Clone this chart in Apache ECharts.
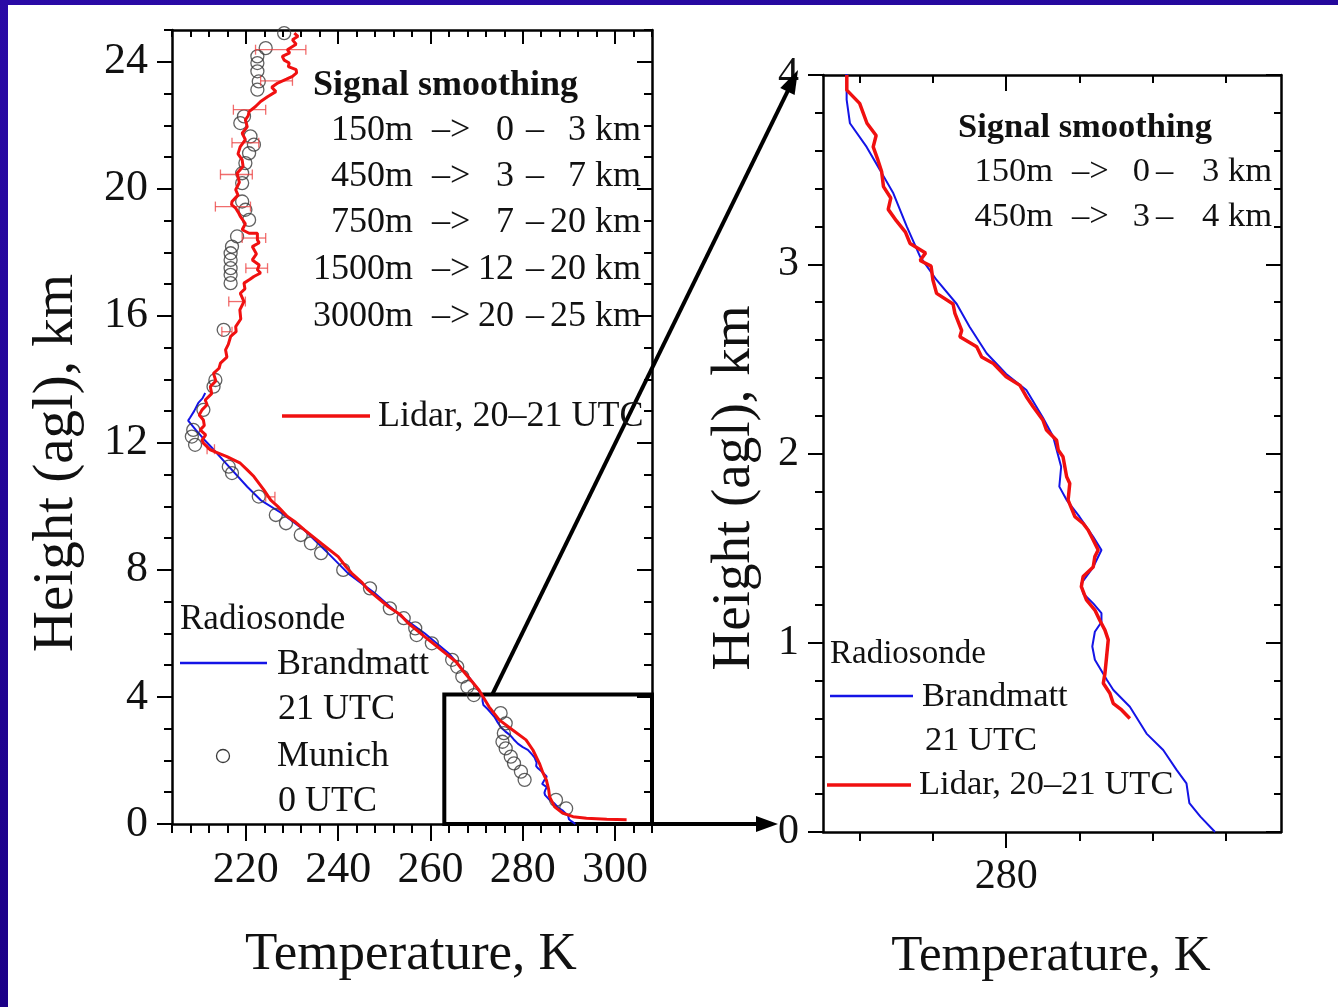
<!DOCTYPE html>
<html><head><meta charset="utf-8">
<script src="https://cdn.jsdelivr.net/npm/echarts@6/dist/echarts.min.js"></script>
<style>html,body{margin:0;padding:0;background:#fff;}#c{width:1338px;height:1007px;}</style>
</head><body><div id="c"></div>
<script>
// ---------------- DATA ----------------
// Radiosonde Brandmatt 21 UTC (temperature K, height km)
const brandmattH = [0.0,0.081,0.152,0.257,0.328,0.433,0.52,0.662,0.75,0.803,0.91,0.98,1.058,1.11,1.156,1.208,1.26,1.314,1.40,1.49,1.56,1.666,1.754,1.825,1.93,2.09,2.19,2.336,2.42,2.53,2.67,2.79,2.917,3.04,3.20,3.375,3.50,3.62,3.745,3.87,4.0,4.3,4.63,5.37,6.0,6.52,7.27,7.9,8.53,9.26,9.8,10.2,10.62,11.37,11.87,12.1,12.4,12.7,12.79,13.0,13.26,13.4,13.57];
const brandmattT = [291.4,290.6,290.0,289.84,289.3,288.57,287.66,286.75,285.85,285.5,284.84,284.7,284.84,285.2,285.2,284.75,284.2,284.1,284.75,285.2,284.75,284.0,283.3,282.9,283.0,282.56,282.0,281.1,280.0,278.93,278.0,277.3,276.2,275.3,274.57,273.84,273.1,272.38,271.47,271.29,271.29,270.0,268.3,264.0,258.8,253.8,247.9,242.1,237.8,232.6,227.6,223.2,220.3,215.6,212.5,211.0,209.2,207.5,207.9,208.8,209.7,210.6,211.2];

// Lidar 20-21 UTC, full profile (left panel)
const lidarFullH = [0.13,0.15,0.18,0.23,0.34,0.54,0.86,1.1,1.39,1.6,1.91,2.33,2.65,2.96,3.28,3.69,4.22,4.5,4.85,5.1,5.38,5.8,6.32,6.6,6.84,7.37,7.6,7.9,8.1,8.42,8.84,9.26,9.5,9.68,10.0,10.2,10.52,10.94,11.15,11.36,11.57,11.78,11.99,12.09,12.25,12.41,12.55,12.72,12.88,13.04,13.2,13.35,13.55,13.77,13.95,14.19,14.35,14.51,14.7,14.93,15.1,15.35,15.5,15.66,15.9,16.19,16.45,16.71,16.85,17.03,17.15,17.24,17.35,17.45,17.6,17.76,17.95,18.18,18.3,18.39,18.6,18.6,18.71,18.9,19.13,19.25,19.39,19.5,19.6,19.8,19.97,20.2,20.49,20.7,20.91,21.1,21.33,21.55,21.75,21.95,22.17,22.3,22.43,22.59,22.75,22.9,23.06,23.2,23.33,23.45,23.54,23.65,23.75,23.85,23.96,24.05,24.17,24.28,24.38,24.55,24.69,24.8,24.9];
const lidarFullT = [302.5,298.2,293.8,290.9,288.7,286.9,285.8,285.6,285.1,284.4,283.6,282.2,280.7,277.8,274.9,272.7,270.5,268.9,266.9,265.6,263.2,259.6,255.2,253.4,250.9,246.5,245.2,242.9,241.7,240.0,236.3,232.7,230.8,229.0,226.9,225.4,223.9,221.75,220.3,218.8,215.9,212.3,210.8,210.5,211.3,210.1,211.0,210.8,209.9,210.5,211.6,211.2,212.6,212.3,213.5,213.0,214.2,214.5,215.9,215.6,216.2,216.7,217.9,217.8,218.9,218.7,219.6,218.8,219.8,219.6,220.9,221.75,223.2,222.5,222.9,221.4,222.3,221.4,222.9,222.5,222.5,220.7,219.2,219.9,218.8,218.4,217.8,216.9,217.0,218.3,217.8,218.6,218.1,219.4,219.2,218.3,218.8,219.9,219.2,220.3,219.9,220.5,220.7,222.1,223.2,224.7,226.5,225.6,226.9,228.8,230.1,231.0,230.9,229.2,229.4,228.3,227.9,229.5,229.0,230.9,230.1,231.3,230.5];

// Lidar 20-21 UTC, 0-4 km (right panel)
const lidarZoomH = [0.60,0.645,0.68,0.733,0.786,0.838,0.926,1.015,1.067,1.12,1.173,1.226,1.296,1.35,1.40,1.455,1.49,1.543,1.596,1.63,1.666,1.754,1.842,1.877,1.983,2.018,2.07,2.124,2.177,2.247,2.30,2.36,2.406,2.476,2.51,2.564,2.617,2.65,2.74,2.79,2.846,2.917,2.99,3.02,3.06,3.11,3.17,3.23,3.29,3.35,3.41,3.49,3.55,3.62,3.68,3.745,3.85,3.92,4.0];
const lidarZoomT = [286.75,286.3,285.84,285.66,285.3,285.39,285.48,285.57,285.39,285.1,284.84,284.38,284.1,284.2,284.75,284.84,285.02,284.75,284.47,284.2,283.75,283.38,283.47,283.3,283.1,282.84,282.75,282.2,282.0,281.47,281.1,280.75,280.0,279.3,278.66,278.39,277.47,277.57,277.2,277.1,276.2,276.0,275.9,275.3,275.6,274.75,274.5,274.0,273.56,273.7,273.3,273.2,273.0,272.74,272.9,272.4,272.0,271.3,271.3];

// Radiosonde Munich 0 UTC
const munichH = [24.9,24.43,24.17,23.96,23.7,23.38,23.12,22.28,22.07,21.65,21.39,21.12,20.81,20.49,20.18,19.6,19.34,19.02,18.5,18.18,17.97,17.76,17.5,17.29,17.03,15.56,13.98,13.77,13.04,12.41,12.2,11.94,11.25,11.05,10.31,9.73,9.47,9.1,8.84,8.53,8.0,7.42,6.79,6.48,6.16,5.95,5.69,5.17,4.95,4.64,4.32,4.06,3.49,3.17,2.86,2.59,2.38,2.12,1.91,1.65,1.39,0.76,0.49];
const munichT = [228.3,224.3,222.5,222.5,222.5,222.8,222.5,219.6,218.8,221.0,221.75,220.7,219.9,219.2,219.2,219.2,219.9,220.7,218.1,217.0,216.7,216.7,216.7,216.7,216.7,215.2,213.4,213.0,210.8,208.6,208.3,209.0,216.3,217.0,222.8,226.5,228.7,231.9,234.1,236.3,241.1,246.9,251.2,254.2,256.7,257.0,260.3,264.7,265.8,266.9,268.0,269.4,275.2,276.3,275.9,275.6,276.3,277.4,278.1,279.6,280.4,287.2,289.4];

// Lidar error bars (height km, low K, high K)
const errH    = [24.38,23.4,22.49,21.45,20.45,19.44,18.45,17.5,16.45,15.5,11.8,10.3];
const errLow  = [222.1,223.2,217.3,217.0,214.5,213.4,219.2,220.0,216.3,214.8,211.6,224.3];
const errHigh = [233.0,230.1,224.3,222.8,221.4,221.0,224.3,224.7,219.9,217.0,213.2,226.3];

// Axis ticks / labels
const xMajorLeft = [220,240,260,280,300];
const yMajorLeft = [0,4,8,12,16,20,24];
const xTicksRight = [272,276,280,284,288,292];
const xMajorRight = [280];
const yMajorRight = [0,1,2,3,4];

// ---------------- CHART ----------------
const zip = (T, H) => T.map((t, i) => [t, H[i]]);
const FONT = 'Liberation Serif';
const BLACK = '#000';

function xa(grid, pos, min, max, o) {
  return Object.assign({
    gridIndex: grid, type: 'value', position: pos, min: min, max: max,
    splitLine: {show: false},
    axisLine: {show: false, onZero: false, lineStyle: {color: BLACK, width: 2.5}},
    axisLabel: {show: false},
  }, o);
}
function tick(len, inside, extra) {
  return Object.assign({show: true, inside: inside, length: len, lineStyle: {color: BLACK, width: 2}}, extra || {});
}
const lineOn = {show: true, onZero: false, lineStyle: {color: BLACK, width: 2.5}};

const xAxes = [
  // left grid
  xa(0, 'bottom', 204, 308, {interval: 4, axisLine: lineOn, axisTick: tick(9, false)}),
  xa(0, 'bottom', 204, 308, {interval: 4, axisTick: tick(17, false, {customValues: xMajorLeft}),
    axisLabel: {show: true, customValues: xMajorLeft, fontFamily: FONT, fontSize: 44, color: '#111', margin: 24}}),
  xa(0, 'top', 204, 308, {interval: 4, axisLine: lineOn, axisTick: tick(7, true)}),
  xa(0, 'top', 204, 308, {interval: 4, axisTick: tick(14, true, {customValues: xMajorLeft})}),
  // right grid
  xa(1, 'bottom', 270, 295, {interval: 5, axisLine: lineOn, axisTick: tick(9, false, {customValues: xTicksRight})}),
  xa(1, 'bottom', 270, 295, {interval: 5, axisTick: tick(16, false, {customValues: xMajorRight}),
    axisLabel: {show: true, customValues: xMajorRight, fontFamily: FONT, fontSize: 42, color: '#111', margin: 24}}),
  xa(1, 'top', 270, 295, {interval: 5, axisLine: lineOn, axisTick: tick(8, true, {customValues: xTicksRight})}),
  xa(1, 'top', 270, 295, {interval: 5, axisTick: tick(16, true, {customValues: xMajorRight})}),
];
const yAxes = [
  xa(0, 'left', 0, 25, {interval: 1, axisLine: lineOn, axisTick: tick(8, false)}),
  xa(0, 'left', 0, 25, {interval: 1, axisTick: tick(15, false, {customValues: yMajorLeft}),
    axisLabel: {show: true, customValues: yMajorLeft, fontFamily: FONT, fontSize: 44, color: '#111', margin: 24}}),
  xa(0, 'right', 0, 25, {interval: 1, axisLine: lineOn, axisTick: tick(8, true)}),
  xa(0, 'right', 0, 25, {interval: 1, axisTick: tick(15, true, {customValues: yMajorLeft})}),
  xa(1, 'left', 0, 4, {interval: 0.2, axisLine: lineOn, axisTick: tick(8, false)}),
  xa(1, 'left', 0, 4, {interval: 0.2, axisTick: tick(15, false, {customValues: yMajorRight}),
    axisLabel: {show: true, customValues: yMajorRight, fontFamily: FONT, fontSize: 42, color: '#111', margin: 24}}),
  xa(1, 'right', 0, 4, {interval: 0.2, axisLine: lineOn, axisTick: tick(7, true)}),
  xa(1, 'right', 0, 4, {interval: 0.2, axisTick: tick(15, true, {customValues: yMajorRight})}),
];

const errData = errH.map((h, i) => [errLow[i], errHigh[i], h]);

const option = {
  backgroundColor: '#fff',
  animation: false,
  grid: [
    {left: 172, top: 30, width: 480, height: 794},
    {left: 823, top: 75, width: 458, height: 757}
  ],
  xAxis: xAxes,
  yAxis: yAxes,
  series: [
    {name: 'Brandmatt 21 UTC', type: 'line', xAxisIndex: 0, yAxisIndex: 0, data: zip(brandmattT, brandmattH),
     symbol: 'none', lineStyle: {color: '#1414e6', width: 2}, z: 3,
     markArea: {silent: true, itemStyle: {color: 'rgba(0,0,0,0)', borderColor: BLACK, borderWidth: 4},
       data: [[{coord: [263, 0]}, {coord: [308, 4.08]}]]}},
    {name: 'Munich 0 UTC', type: 'scatter', xAxisIndex: 0, yAxisIndex: 0, data: zip(munichT, munichH),
     symbol: 'circle', symbolSize: 13, itemStyle: {color: 'rgba(0,0,0,0)', borderColor: '#3a3a3a', borderWidth: 1.3}, z: 4},
    {name: 'Lidar err', type: 'custom', xAxisIndex: 0, yAxisIndex: 0, data: errData,
     encode: {x: [0, 1], y: 2}, z: 5,
     renderItem: function (params, api) {
       const a = api.coord([api.value(0), api.value(2)]);
       const b = api.coord([api.value(1), api.value(2)]);
       const st = {stroke: 'rgba(235,60,60,0.75)', lineWidth: 1.3};
       const c = 5;
       return {type: 'group', children: [
         {type: 'line', shape: {x1: a[0], y1: a[1], x2: b[0], y2: b[1]}, style: st},
         {type: 'line', shape: {x1: a[0], y1: a[1] - c, x2: a[0], y2: a[1] + c}, style: st},
         {type: 'line', shape: {x1: b[0], y1: b[1] - c, x2: b[0], y2: b[1] + c}, style: st}
       ]};
     }},
    {name: 'Lidar, 20–21 UTC', type: 'line', xAxisIndex: 0, yAxisIndex: 0, data: zip(lidarFullT, lidarFullH),
     symbol: 'none', lineStyle: {color: '#f01010', width: 3}, z: 6},
    {name: 'Brandmatt 21 UTC (zoom)', type: 'line', xAxisIndex: 4, yAxisIndex: 4, data: zip(brandmattT, brandmattH),
     symbol: 'none', lineStyle: {color: '#1414e6', width: 2}, z: 3},
    {name: 'Lidar zoom', type: 'line', xAxisIndex: 4, yAxisIndex: 4, data: zip(lidarZoomT, lidarZoomH),
     symbol: 'none', lineStyle: {color: '#f01010', width: 3.5}, z: 6}
  ]
};

const chart = echarts.init(document.getElementById('c'), null, {renderer: 'canvas'});
chart.setOption(option);

const pL = v => chart.convertToPixel({xAxisIndex: 0, yAxisIndex: 0}, v);
const pR = v => chart.convertToPixel({xAxisIndex: 4, yAxisIndex: 4}, v);

function txt(x, y, text, size, align, weight) {
  return {type: 'text', x: x, y: y, z: 100, silent: true,
    style: {text: text, fontFamily: FONT, fontSize: size, fontWeight: weight || 'normal', fill: '#111',
            align: align || 'left', verticalAlign: 'middle'}};
}
function arrow(s, t, L, W, width) {
  const dx = t[0] - s[0], dy = t[1] - s[1];
  const len = Math.sqrt(dx * dx + dy * dy);
  const ux = dx / len, uy = dy / len, nx = -uy, ny = ux;
  const bx = t[0] - ux * L, by = t[1] - uy * L;
  return [
    {type: 'line', z: 90, silent: true, shape: {x1: s[0], y1: s[1], x2: t[0] - ux * L * 0.7, y2: t[1] - uy * L * 0.7},
     style: {stroke: BLACK, lineWidth: width}},
    {type: 'polygon', z: 90, silent: true, shape: {points: [t, [bx + nx * W / 2, by + ny * W / 2], [bx - nx * W / 2, by - ny * W / 2]]},
     style: {fill: BLACK}}
  ];
}

const boxTop = pL([273.4, 4.08]);
const rTopLeft = pR([270, 4]);
const lBotRight = pL([308, 0]);
const rBotLeft = pR([270, 0]);

const g = [];
// slide frame bands
g.push({type: 'rect', z: 0, silent: true, shape: {x: 0, y: 0, width: 1338, height: 5},
  style: {fill: new echarts.graphic.LinearGradient(0, 0, 1, 0, [{offset: 0, color: '#2a0aa6'}, {offset: 1, color: '#24089c'}])}});
g.push({type: 'rect', z: 0, silent: true, shape: {x: 0, y: 0, width: 8, height: 1007},
  style: {fill: new echarts.graphic.LinearGradient(0, 0, 0, 1, [{offset: 0, color: '#2a0aa6'}, {offset: 1, color: '#1c0088'}])}});

// arrows linking the panels
arrow(boxTop, [rTopLeft[0] - 25, rTopLeft[1] - 5], 24, 16, 4).forEach(e => g.push(e));
arrow([lBotRight[0], lBotRight[1]], [rBotLeft[0] - 45, lBotRight[1]], 22, 16, 4).forEach(e => g.push(e));

// axis titles
g.push(Object.assign(txt(57, 463, 'Height (agl), km', 57, 'center'), {rotation: Math.PI / 2}));
g.push(txt(411, 955, 'Temperature, K', 53, 'center'));
g.push(Object.assign(txt(735, 488, 'Height (agl), km', 55, 'center'), {rotation: Math.PI / 2}));
g.push(txt(1051, 957, 'Temperature, K', 51, 'center'));

// left panel: signal smoothing table
g.push(txt(313, 86, 'Signal smoothing', 36, 'left', 'bold'));
const rowsL = [['150m', '0', '3 km', 131], ['450m', '3', '7 km', 177], ['750m', '7', '20 km', 223], ['1500m', '12', '20 km', 270], ['3000m', '20', '25 km', 317]];
rowsL.forEach(r => {
  g.push(txt(413, r[3], r[0], 36, 'right'));
  g.push(txt(432, r[3], '–>', 36, 'left'));
  g.push(txt(514, r[3], r[1], 36, 'right'));
  g.push(txt(526, r[3], '–', 36, 'left'));
  g.push(txt(641, r[3], r[2], 36, 'right'));
});
// left panel: lidar legend
g.push({type: 'line', z: 100, silent: true, shape: {x1: 282, y1: 416, x2: 370, y2: 416}, style: {stroke: '#f01010', lineWidth: 3.5}});
g.push(txt(378, 417, 'Lidar, 20–21 UTC', 36));
// left panel: radiosonde legend
g.push(txt(180, 620, 'Radiosonde', 35));
g.push({type: 'line', z: 100, silent: true, shape: {x1: 180, y1: 663, x2: 267, y2: 663}, style: {stroke: '#1414e6', lineWidth: 2.5}});
g.push(txt(277, 665, 'Brandmatt', 36));
g.push(txt(278, 710, '21 UTC', 36));
g.push({type: 'circle', z: 100, silent: true, shape: {cx: 223, cy: 756, r: 6.5}, style: {fill: 'none', stroke: '#3a3a3a', lineWidth: 1.3}});
g.push(txt(277, 757, 'Munich', 36));
g.push(txt(278, 802, '0 UTC', 36));

// right panel: signal smoothing table
g.push(txt(958, 128, 'Signal smoothing', 34.5, 'left', 'bold'));
const rowsR = [['150m', '0', '3 km', 172], ['450m', '3', '4 km', 217]];
rowsR.forEach(r => {
  g.push(txt(1053, r[3], r[0], 34.5, 'right'));
  g.push(txt(1072, r[3], '–>', 34.5, 'left'));
  g.push(txt(1150, r[3], r[1], 34.5, 'right'));
  g.push(txt(1156, r[3], '–', 34.5, 'left'));
  g.push(txt(1272, r[3], r[2], 34.5, 'right'));
});
// right panel legend
g.push(txt(830, 654, 'Radiosonde', 33));
g.push({type: 'line', z: 100, silent: true, shape: {x1: 830, y1: 696, x2: 913, y2: 696}, style: {stroke: '#1414e6', lineWidth: 2.5}});
g.push(txt(922, 697, 'Brandmatt', 34.5));
g.push(txt(925, 741, '21 UTC', 34.5));
g.push({type: 'line', z: 100, silent: true, shape: {x1: 827, y1: 785, x2: 911, y2: 785}, style: {stroke: '#f01010', lineWidth: 3.5}});
g.push(txt(919, 785, 'Lidar, 20–21 UTC', 34.5));

chart.setOption({graphic: g});
</script>
</body></html>
